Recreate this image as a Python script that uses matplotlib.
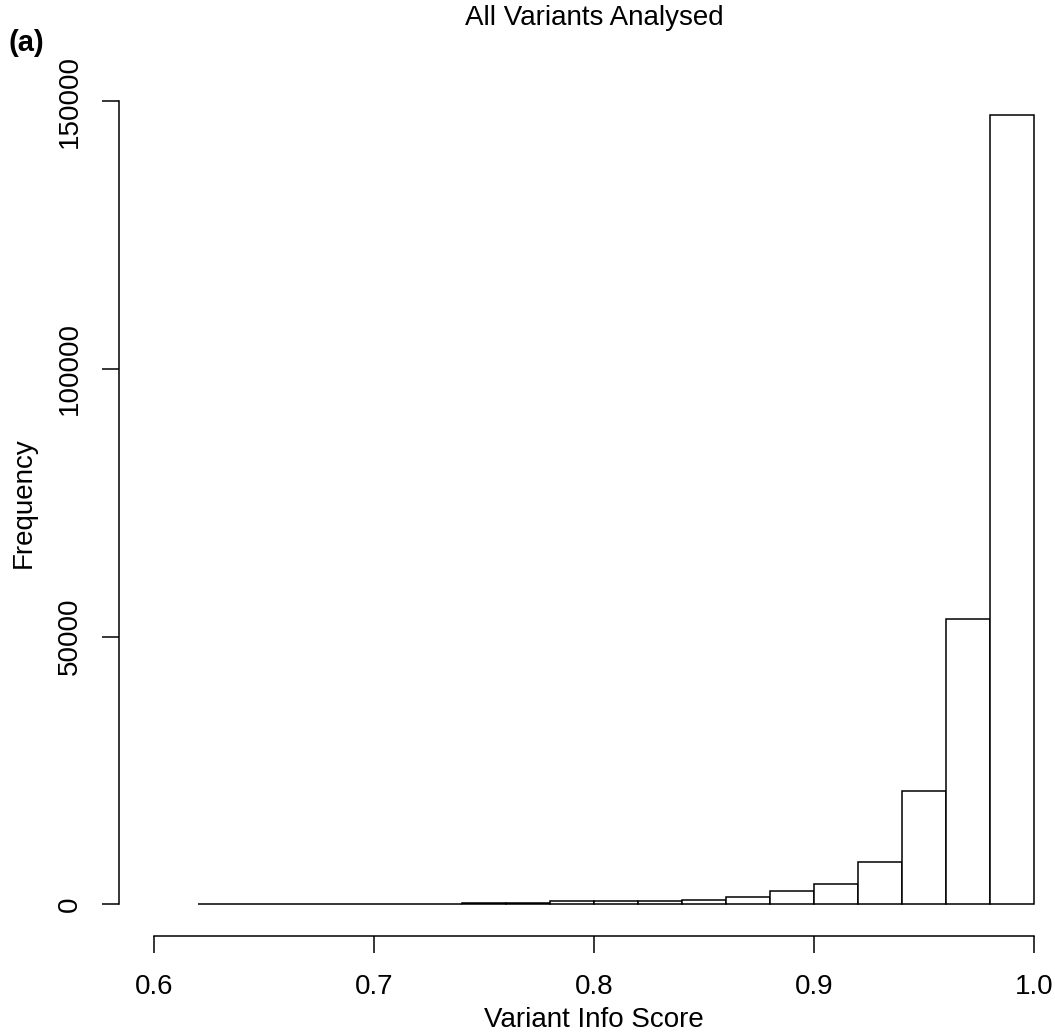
import numpy as np
import matplotlib
matplotlib.use("Agg")
import matplotlib.pyplot as plt

# Histogram bins of variant info scores (width 0.02) and their counts
bin_edges = [0.62, 0.64, 0.66, 0.68, 0.70, 0.72, 0.74, 0.76, 0.78, 0.80,
             0.82, 0.84, 0.86, 0.88, 0.90, 0.92, 0.94, 0.96, 0.98, 1.00]
counts = [20, 25, 35, 80, 100, 120, 170, 300, 550, 560,
          580, 780, 1400, 2500, 3750, 7900, 21200, 53300, 147500]

x_ticks = [0.6, 0.7, 0.8, 0.9, 1.0]
x_tick_labels = ["0.6", "0.7", "0.8", "0.9", "1.0"]
y_ticks = [0, 50000, 100000, 150000]
y_tick_labels = ["0", "50000", "100000", "150000"]

W, H = 1055, 1033
DPI = 100
plt.rcParams["font.family"] = ["Liberation Sans", "DejaVu Sans"]

fig = plt.figure(figsize=(W / DPI, H / DPI), dpi=DPI)
fig.patch.set_facecolor("white")

# plot region in pixels: left 119, right 1069, top 83, bottom 936
L, R, T, B = 119, 1069, 83, 936
ax = fig.add_axes([L / W, 1 - B / H, (R - L) / W, (B - T) / H])

edges = np.array(bin_edges)
widths = np.diff(edges)
ax.bar(edges[:-1], counts, width=widths, align="edge",
       facecolor="white", edgecolor="black", linewidth=1.1)

xr = (0.6, 1.0)
yr = (0, max(counts))
ax.set_xlim(xr[0] - 0.04 * (xr[1] - xr[0]), xr[1] + 0.04 * (xr[1] - xr[0]))
ax.set_ylim(yr[0] - 0.04 * (yr[1] - yr[0]), yr[1] + 0.04 * (yr[1] - yr[0]))

for s in ("top", "right"):
    ax.spines[s].set_visible(False)
ax.spines["left"].set_bounds(0, 150000)
ax.spines["bottom"].set_bounds(0.6, 1.0)
for s in ("left", "bottom"):
    ax.spines[s].set_linewidth(1.1)

ax.set_xticks(x_ticks)
ax.set_xticklabels(x_tick_labels, fontsize=20)
ax.set_yticks(y_ticks)
ax.set_yticklabels(y_tick_labels, fontsize=20, rotation=90, va="center")
ax.tick_params(axis="both", direction="out", length=12.2, width=1.1,
               colors="black")
ax.tick_params(axis="x", pad=15)
ax.tick_params(axis="y", pad=14)

def px(x, y):
    return x / W, 1 - y / H

fig.text(*px(594, 1020), "Variant Info Score", fontsize=20,
         ha="center", va="center")
fig.text(*px(24, 503), "Frequency", fontsize=20, rotation=90,
         ha="center", va="center")
fig.text(*px(594, 18), "All Variants Analysed", fontsize=20,
         ha="center", va="center")
fig.text(*px(8, 43), "(a)", fontsize=21, fontweight="bold",
         ha="left", va="center")

fig.savefig("out.png", dpi=DPI, facecolor="white")
